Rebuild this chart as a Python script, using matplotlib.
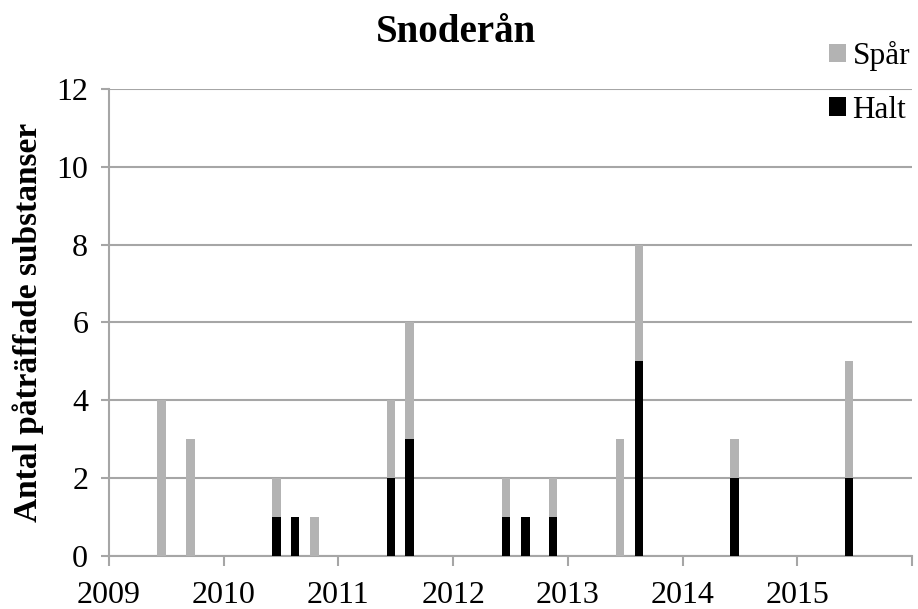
import numpy as np
import matplotlib
matplotlib.use('Agg')
import matplotlib.pyplot as plt

plt.rcParams['font.family'] = ['Liberation Serif', 'DejaVu Serif']

# provtagningstillfällen (decimalår)
datum = [2009.46, 2009.71, 2010.46, 2010.62, 2010.79,
         2011.46, 2011.62, 2012.46, 2012.63, 2012.87,
         2013.455, 2013.62, 2014.45, 2015.45]
halt = [0, 0, 1, 1, 0, 2, 3, 1, 1, 1, 0, 5, 2, 2]
spar = [4, 3, 1, 0, 1, 2, 3, 1, 0, 1, 3, 3, 1, 3]
ar = [2009, 2010, 2011, 2012, 2013, 2014, 2015, 2016]
ar_etiketter = ['2009', '2010', '2011', '2012', '2013', '2014', '2015', '']

grid_col = '#a6a6a6'

fig = plt.figure(figsize=(9.18, 6.09), dpi=100)
ax = fig.add_axes([0.1187, 0.087, 0.8748, 0.767])

w = 0.075
ax.bar(datum, halt, width=w, color='black', label='Halt', zorder=3)
ax.bar(datum, spar, width=w, bottom=halt, color='#b3b3b3', label='Spår', zorder=3)

ax.set_xlim(2009, 2016)
ax.set_ylim(0, 12)
ax.set_xticks(ar)
ax.set_xticklabels(ar_etiketter)
ax.set_yticks(range(0, 13, 2))
ax.yaxis.grid(True, color=grid_col, linewidth=1.5, zorder=0)
ax.set_axisbelow(True)

for s in ['top', 'right']:
    ax.spines[s].set_visible(False)
for s in ['left', 'bottom']:
    ax.spines[s].set_color(grid_col)
    ax.spines[s].set_linewidth(1.5)
ax.tick_params(axis='both', colors=grid_col, width=1.5, length=6,
               labelcolor='black', labelsize=23)
ax.tick_params(axis='x', pad=11, length=7)
ax.tick_params(axis='y', pad=9)

ax.set_ylabel('Antal påträffade substanser', fontsize=24, fontweight='bold', labelpad=9)
fig.suptitle('Snoderån', x=0.497, y=0.977, fontsize=28, fontweight='bold')

handles, labels = ax.get_legend_handles_labels()
fig.legend(handles[::-1], labels[::-1], loc='upper right',
           bbox_to_anchor=(1.005, 0.953),
           frameon=False, fontsize=22.5, handlelength=0.55, handleheight=0.55,
           handletextpad=0.2, labelspacing=0.78, borderaxespad=0)

fig.savefig('out.png', dpi=100)
